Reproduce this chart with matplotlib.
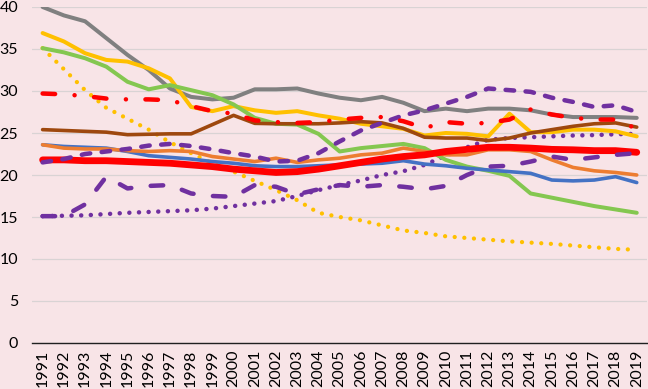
import matplotlib
matplotlib.use("Agg")
import matplotlib.pyplot as plt

years = [str(y) for y in range(1991, 2020)]

gray = [40.0, 39.0, 38.3, 36.3, 34.3, 32.5, 30.3, 29.3, 29.0, 29.2, 30.2, 30.2, 30.3, 29.7, 29.2,
        28.9, 29.3, 28.6, 27.6, 27.9, 27.6, 27.9, 27.9, 27.7, 27.2, 26.9, 26.9, 26.9, 26.8]
gold = [36.9, 35.9, 34.5, 33.7, 33.5, 32.7, 31.5, 28.1, 27.6, 28.2, 27.7, 27.4, 27.6, 27.1, 26.7,
        26.1, 25.8, 25.5, 24.7, 25.0, 24.9, 24.6, 27.3, 25.1, 25.1, 25.4, 25.4, 25.2, 24.6]
green = [35.1, 34.6, 33.9, 32.9, 31.1, 30.2, 30.7, 30.1, 29.5, 28.4, 26.8, 26.1, 26.0, 24.9, 22.8,
         23.2, 23.45, 23.7, 23.2, 21.8, 21.0, 20.5, 19.9, 17.8, 17.3, 16.8, 16.3, 15.9, 15.5]
red_dashdot = [29.7, 29.6, 29.4, 29.1, 29.0, 29.0, 28.9, 28.2, 27.6, 27.3, 26.5, 26.3, 26.2, 26.3, 26.6,
               26.8, 26.9, 26.4, 25.6, 26.3, 26.1, 26.2, 26.6, 27.8, 27.2, 26.8, 26.6, 26.6, 25.5]
brown = [25.4, 25.3, 25.2, 25.1, 24.8, 24.85, 24.9, 24.9, 26.0, 27.1, 26.15, 26.1, 26.1, 26.1, 26.2,
         26.35, 26.2, 25.55, 24.5, 24.4, 24.4, 24.1, 24.4, 25.0, 25.4, 25.8, 26.1, 26.2, 25.7]
blue = [23.6, 23.4, 23.3, 23.2, 22.8, 22.3, 22.1, 21.9, 21.6, 21.4, 21.1, 21.0, 21.0, 21.1, 21.2,
        21.3, 21.4, 21.7, 21.3, 21.1, 20.8, 20.6, 20.4, 20.2, 19.4, 19.3, 19.4, 19.8, 19.1]
orange = [23.6, 23.2, 23.1, 23.1, 22.9, 22.8, 22.9, 22.8, 22.2, 21.9, 21.6, 22.0, 21.5, 21.8, 22.0,
          22.4, 22.6, 23.2, 22.8, 22.4, 22.4, 23.0, 23.0, 22.8, 21.8, 20.9, 20.5, 20.3, 20.0]
red_solid = [21.8, 21.8, 21.7, 21.7, 21.6, 21.5, 21.4, 21.2, 21.0, 20.7, 20.5, 20.3, 20.4, 20.7, 21.1,
             21.5, 21.9, 22.2, 22.4, 22.8, 23.05, 23.3, 23.3, 23.2, 23.05, 23.0, 22.9, 22.9, 22.7]
purple_dash_upper = [21.5, 21.9, 22.5, 22.8, 23.1, 23.5, 23.7, 23.45, 23.05, 22.6, 22.2, 21.6, 21.7, 22.6, 24.0,
                     25.3, 26.2, 27.1, 27.7, 28.5, 29.3, 30.3, 30.1, 29.9, 29.2, 28.7, 28.1, 28.3, 27.5]
purple_dash_lower = [15.1, 15.1, 16.5, 19.8, 18.4, 18.7, 18.8, 17.8, 17.5, 17.4, 18.8, 18.6, 17.7, 18.3, 18.8,
                     18.6, 18.8, 18.6, 18.3, 18.7, 20.0, 21.0, 21.1, 21.6, 22.2, 21.8, 22.1, 22.4, 22.6]
purple_dotted = [15.1, 15.15, 15.2, 15.35, 15.5, 15.6, 15.7, 15.8, 16.0, 16.3, 16.6, 16.9, 17.5, 18.2, 18.8,
                 19.35, 20.0, 20.45, 21.2, 22.3, 23.3, 24.2, 24.4, 24.5, 24.6, 24.7, 24.75, 24.85, 24.9]
gold_dotted = [35.1, 32.6, 30.1, 28.0, 26.7, 25.4, 23.9, 22.6, 21.4, 20.4, 19.3, 18.2, 17.0, 15.5, 15.0,
               14.6, 14.0, 13.4, 13.1, 12.7, 12.5, 12.3, 12.1, 11.95, 11.8, 11.6, 11.4, 11.2, 11.1]

bg = "#F8E4E7"
plt.rcParams['font.family'] = ['Lato', 'DejaVu Sans']

fig = plt.figure(figsize=(6.48, 3.89), dpi=100, facecolor=bg)
ax = fig.add_axes([32/648, 1-343/389, 1-32/648-0.001, (343-7)/389])
ax.set_facecolor(bg)

x = list(range(len(years)))

def px(v):
    return v * 0.72

def dotted(color, lw_px):
    return dict(color=color, lw=px(lw_px), linestyle=(0, (0.01, 9.6 / lw_px)),
                dash_capstyle='round', solid_capstyle='round')

ax.plot(x, gold_dotted, **dotted('#FFC000', 4.3))
ax.plot(x, purple_dotted, **dotted('#7030A0', 4.5))
ax.plot(x, gray, color='#808080', lw=px(4), solid_capstyle='round', solid_joinstyle='round')
ax.plot(x, gold, color='#FFC000', lw=px(4), solid_capstyle='round', solid_joinstyle='round')
ax.plot(x, green, color='#84C750', lw=px(4), solid_capstyle='round', solid_joinstyle='round')
ax.plot(x, brown, color='#9E480E', lw=px(3.6), solid_capstyle='round', solid_joinstyle='round')
ax.plot(x, blue, color='#4472C4', lw=px(3.6), solid_capstyle='round', solid_joinstyle='round')
ax.plot(x, orange, color='#ED7D31', lw=px(3.6), solid_capstyle='round', solid_joinstyle='round')
ax.plot(x, red_solid, color='#FF0000', lw=px(6.8), solid_capstyle='round', solid_joinstyle='round')
lw_d = 4.5
ax.plot(x, purple_dash_lower, color='#7030A0', lw=px(lw_d),
        linestyle=(0, (12.5 / lw_d, 19.5 / lw_d)), dash_capstyle='round')
ax.plot(x, purple_dash_upper, color='#7030A0', lw=px(lw_d),
        linestyle=(0, (8.5 / lw_d, 11.5 / lw_d)), dash_capstyle='round')
ax.plot(x, red_dashdot, color='#FF0000', lw=px(lw_d),
        linestyle=(0, (12.5 / lw_d, 19.5 / lw_d, 0.01, 19.5 / lw_d)), dash_capstyle='round')

ax.set_xlim(-0.5, len(years) - 0.5)
ax.set_ylim(0, 40)
ax.set_yticks(range(0, 41, 5))
ax.set_xticks(x)
ax.set_xticklabels(years, rotation=90)
ax.tick_params(axis='both', length=0, labelsize=11.5, colors='#000000')
ax.tick_params(axis='y', pad=10)
ax.tick_params(axis='x', pad=5)
for lab in ax.get_yticklabels():
    lab.set_horizontalalignment('right')
ax.grid(axis='y', color='#D9D3D4', lw=0.9)
ax.set_axisbelow(True)
for s in ['top', 'right', 'left']:
    ax.spines[s].set_visible(False)
ax.spines['bottom'].set_color('#202020')
ax.spines['bottom'].set_linewidth(1.0)

fig.savefig("out.png", dpi=100, facecolor=bg)
